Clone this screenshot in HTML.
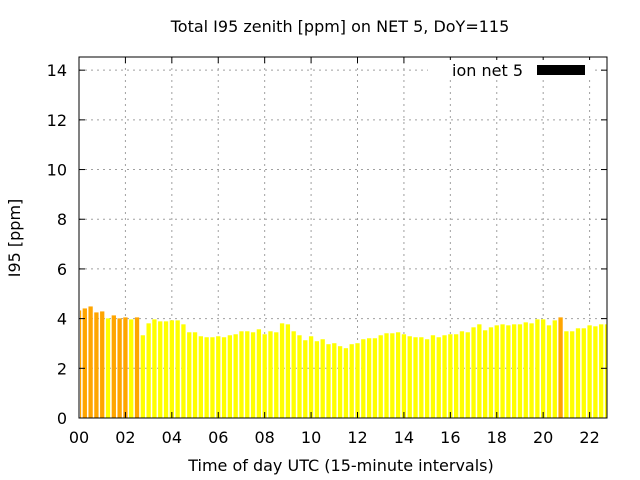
<!DOCTYPE html>
<html><head><meta charset="utf-8"><style>
body{margin:0;background:#fff}
svg{display:block;font-family:"DejaVu Sans","Liberation Sans",sans-serif}
</style></head><body>
<svg id="chart" width="640" height="480" viewBox="0 0 640 480">
<text x="340" y="32" font-size="16" text-anchor="middle">Total I95 zenith [ppm] on NET 5, DoY=115</text>
<g id="grid"></g>
<g id="bars"></g>
<g id="axes"></g>
<text x="341" y="471" font-size="16" text-anchor="middle">Time of day UTC (15-minute intervals)</text>
<text transform="translate(20,238) rotate(-90)" font-size="16" text-anchor="middle">I95 [ppm]</text>
<g>
<rect x="428" y="60" width="165" height="20" fill="#fff"/>
<text x="523" y="76" font-size="16" text-anchor="end">ion net 5</text>
<rect x="537" y="65" width="48" height="10" fill="#000"/>
</g>
</svg>
<script>
const values=[4.33,4.41,4.49,4.25,4.29,4.01,4.13,4.01,4.05,3.97,4.05,3.33,3.81,3.97,3.89,3.89,3.93,3.93,3.77,3.45,3.45,3.29,3.25,3.25,3.29,3.25,3.33,3.37,3.49,3.49,3.45,3.57,3.37,3.49,3.45,3.81,3.77,3.49,3.33,3.13,3.29,3.09,3.17,2.97,3.01,2.89,2.81,2.97,3.01,3.17,3.21,3.21,3.33,3.41,3.41,3.45,3.37,3.29,3.25,3.25,3.17,3.33,3.25,3.33,3.37,3.37,3.49,3.45,3.65,3.77,3.53,3.65,3.73,3.77,3.73,3.77,3.77,3.85,3.81,3.97,3.97,3.73,3.93,4.05,3.49,3.49,3.61,3.61,3.73,3.69,3.77,3.77];
const orangeIdx=[0,1,2,3,4,6,7,8,10,83];
const xTicks=["00","02","04","06","08","10","12","14","16","18","20","22"];
const yTicks=[0,2,4,6,8,10,12,14];
const X0=79,X1=607,Y0=418,Y1=57,XMAX=22.75,YMAX=14.53;
const sx=h=>X0+h/XMAX*(X1-X0);
const sy=v=>Y0-v/YMAX*(Y0-Y1);
const NS="http://www.w3.org/2000/svg";
function mk(tag,attrs,parent){const e=document.createElementNS(NS,tag);for(const k in attrs)e.setAttribute(k,attrs[k]);parent.appendChild(e);return e;}
const grid=document.getElementById('grid'),bars=document.getElementById('bars'),axes=document.getElementById('axes');
yTicks.forEach(v=>{
 const y=sy(v);
 if(v>0){const l=mk('line',{x1:X0,x2:X1,y1:y,y2:y,stroke:'#a0a0a0','stroke-dasharray':'2,4'},grid);
 
 }
 mk('line',{x1:X0,x2:X0+6,y1:y,y2:y,stroke:'#000'},axes);
 mk('line',{x1:X1,x2:X1-6,y1:y,y2:y,stroke:'#000'},axes);
 const t=mk('text',{x:X0-12,y:y+6,'font-size':16,'text-anchor':'end'},axes);
 t.textContent=v;
 
 
});
xTicks.forEach(s=>{
 const x=sx(parseInt(s,10));
 if(x>X0){const l=mk('line',{x1:x,x2:x,y1:Y0,y2:Y1,stroke:'#a0a0a0','stroke-dasharray':'2,4'},grid);
 
 }
 mk('line',{x1:x,x2:x,y1:Y0,y2:Y0-6,stroke:'#000'},axes);
 mk('line',{x1:x,x2:x,y1:Y1,y2:Y1+6,stroke:'#000'},axes);
 const t=mk('text',{x:x,y:Y0+25,'font-size':16,'text-anchor':'middle'},axes);
 t.textContent=s;
 
 
});
const bw=4.3;
values.forEach((v,i)=>{
 const c=sx(i*0.25);
 let l=Math.max(c-bw/2,X0+1),r=Math.min(c+bw/2,X1);
 const y=sy(v);
 const b=mk('rect',{x:l,y:y,width:r-l,height:Y0-y,fill:orangeIdx.includes(i)?'#ffa500':'#ffff00'},bars);
 
 
});
mk('rect',{x:X0,y:Y1,width:X1-X0,height:Y0-Y1,fill:'none',stroke:'#000','stroke-width':1},axes);
</script>
</body></html>
